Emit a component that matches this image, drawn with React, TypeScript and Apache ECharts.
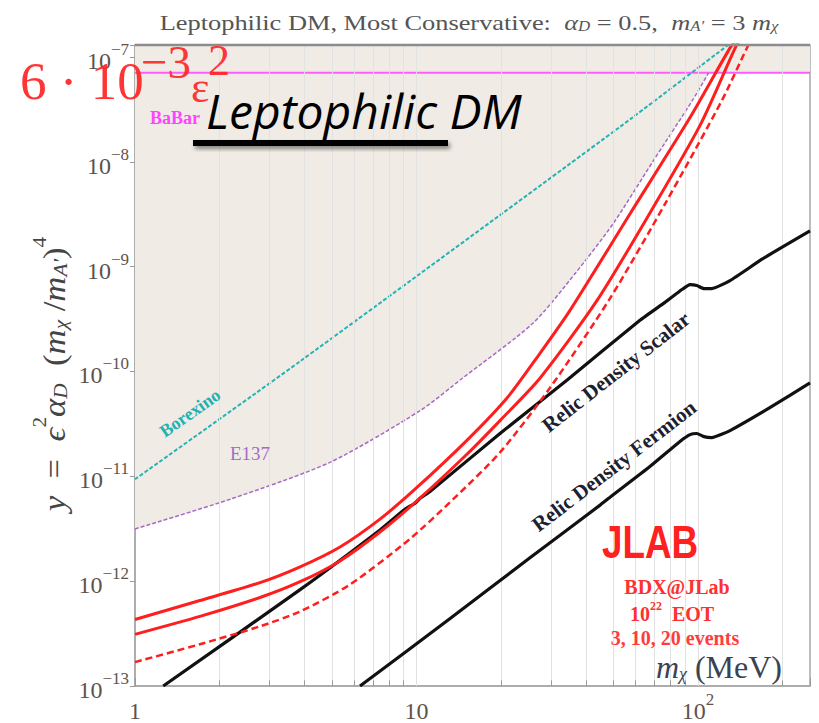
import React, { useEffect, useRef } from 'react';
import * as echarts from 'echarts';

// ---- axis extents & ticks ----
const X_MIN = 1;
const X_MAX = 250;
const Y_MIN = 1e-13;
const Y_MAX = 1.3e-7;
const yTickExponents = [-13, -12, -11, -10, -9, -8, -7];
const xTickExponents = [0, 1, 2];

// ---- BaBar limit (horizontal) ----
const babarY = 7.05e-8;

// ---- Borexino ----
const borexinoX = [1, 3.86, 52.8, 128, 140];
const borexinoY = [9.37e-12, 1.25e-10, 2.15e-8, 1.3e-7, 1.55e-7];

// ---- E137 ----
const e137X = [1, 2.18, 4.93, 10.3, 14.6, 25.9, 36.6, 49.9, 69.2, 95.9, 109];
const e137Y = [3.15e-12, 6.05e-12, 1.36e-11, 4.23e-11, 8.67e-11, 2.88e-10, 8.59e-10, 2.56e-9, 1.01e-8, 3.91e-8, 7.05e-8];

// ---- BDX@JLab: 3 events (solid), 10 events (solid), 20 events (dashed) ----
const bdx3X = [1, 1.7, 2.78, 3.86, 5.35, 7.42, 9.88, 15.2, 21.0, 27.5, 35.1, 57.3, 93.7, 130, 137];
const bdx3Y = [4.31e-13, 6.53e-13, 9.68e-13, 1.37e-12, 2.12e-12, 3.91e-12, 7.53e-12, 2.24e-11, 5.61e-11, 1.5e-10, 3.83e-10, 3.18e-9, 2.64e-8, 1.22e-7, 1.45e-7];
const bdx10X = [1, 1.7, 2.78, 3.86, 5.35, 7.42, 10.1, 15.2, 19.8, 27.5, 43.8, 67.5, 102, 136, 142];
const bdx10Y = [3.11e-13, 4.61e-13, 6.98e-13, 9.88e-13, 1.56e-12, 2.94e-12, 5.92e-12, 1.65e-11, 3.4e-11, 8.67e-11, 4.76e-10, 3.25e-9, 2.26e-8, 1.24e-7, 1.5e-7];
const bdx20X = [1, 1.7, 2.78, 3.86, 5.8, 9.48, 13.5, 19.8, 29.8, 48.7, 76.3, 122, 151, 160];
const bdx20Y = [1.69e-13, 2.5e-13, 3.71e-13, 5.14e-13, 9.27e-13, 2.53e-12, 6.05e-12, 1.69e-11, 6.98e-11, 4.98e-10, 3.95e-9, 3.91e-8, 1.3e-7, 1.7e-7];

// ---- Relic density targets ----
const scalarX = [1.26, 3.86, 7.42, 9.1, 9.88, 10.3, 11.2, 19.8, 34.3, 62.2, 76.3, 87.7, 93.7, 99.1, 105, 112, 130, 170, 250];
const scalarY = [1e-13, 8.3e-13, 3.08e-12, 4.86e-12, 5.54e-12, 6.18e-12, 7.21e-12, 2.56e-11, 8.3e-11, 3.08e-10, 4.56e-10, 6.05e-10, 6.75e-10, 6.6e-10, 6.18e-10, 6.18e-10, 7.36e-10, 1.19e-9, 2.19e-9];
const fermionX = [6.3, 13.2, 25.3, 44.9, 48.7, 67.5, 86.3, 93.7, 99.1, 105, 112, 130, 180, 250];
const fermionY = [1e-13, 4.42e-13, 1.67e-12, 5.31e-12, 6.32e-12, 1.24e-11, 2.15e-11, 2.5e-11, 2.56e-11, 2.39e-11, 2.34e-11, 2.73e-11, 4.51e-11, 7.78e-11];

const SERIF = '"Liberation Serif", "DejaVu Serif", serif';
const SANS = '"Liberation Sans", Arial, sans-serif';
const FILL = '#f1ebe5';

const zip = (xs: number[], ys: number[]) => xs.map((x, i) => [x, ys[i]]);

function rich(size: number, sub: number, lh: number, color: string, weight: string = 'normal') {
  return {
    n: { fontFamily: SERIF, fontSize: size, lineHeight: lh, verticalAlign: 'bottom', fill: color, color, fontWeight: weight },
    i: { fontFamily: SERIF, fontSize: size, fontStyle: 'italic', lineHeight: lh, verticalAlign: 'bottom', fill: color, color, fontWeight: weight },
    sup: { fontFamily: SERIF, fontSize: sub, lineHeight: sub, verticalAlign: 'top', fill: color, color, fontWeight: weight },
    sub: { fontFamily: SERIF, fontSize: sub, fontStyle: 'italic', lineHeight: sub, verticalAlign: 'bottom', fill: color, color, fontWeight: weight },
  };
}

function buildOption() {
  const gridXs: number[] = [];
  for (const d of [1, 10, 100]) for (let k = 1; k <= 9; k++) { const v = k * d; if (v > X_MIN && v < X_MAX) gridXs.push(v); }
  const gridYs: number[] = [];
  for (let e = -13; e <= -7; e++) for (let k = 1; k <= 9; k++) { const v = k * Math.pow(10, e); if (v > Y_MIN * 1.001 && v < Y_MAX) gridYs.push(v); }
  const minorXs = gridXs.filter((v) => ![10, 100].includes(v));

  const tickLabelRich = {
    b: { fontFamily: SERIF, fontSize: 24, lineHeight: 32, verticalAlign: 'bottom', color: '#5e534c' },
    s: { fontFamily: SERIF, fontSize: 17, lineHeight: 17, verticalAlign: 'top', color: '#5e534c' },
  };

  const redSolid = { color: '#ff1e1e', width: 3 };

  const line = (name: string, data: number[][], lineStyle: any, z = 5, smooth: number | boolean = 0.25) => ({
    name, type: 'line', data, symbol: 'none', smooth, lineStyle, z, silent: true,
  });

  return {
    animation: false,
    backgroundColor: '#ffffff',
    grid: { left: 135, top: 45, width: 675, height: 645, show: true, borderColor: '#a8a8a8', borderWidth: 1.5, backgroundColor: 'transparent' },
    xAxis: {
      type: 'log', logBase: 10, min: X_MIN, max: X_MAX,
      axisLine: { show: true, lineStyle: { color: '#a8a8a8', width: 1.5 } },
      axisTick: { show: true, inside: true, length: 8, lineStyle: { color: '#999' } },
      splitLine: { show: false },
      axisLabel: {
        margin: 5,
        rich: tickLabelRich,
        formatter: (v: number) => {
          const e = Math.log10(v); const r = Math.round(e);
          if (Math.abs(e - r) > 1e-6 || !xTickExponents.includes(r)) return '';
          if (r === 0) return '{b|1}';
          if (r === 1) return '{b|10}';
          return `{b|10}{s|${r}}`;
        },
      },
    },
    yAxis: {
      type: 'log', logBase: 10, min: Y_MIN, max: Y_MAX,
      axisLine: { show: true, lineStyle: { color: '#a8a8a8', width: 1.5 } },
      axisTick: { show: true, inside: false, length: 5, lineStyle: { color: '#999' } },
      splitLine: { show: false },
      axisLabel: {
        margin: 6,
        rich: tickLabelRich,
        formatter: (v: number) => {
          const e = Math.log10(v); const r = Math.round(e);
          if (Math.abs(e - r) > 1e-6 || !yTickExponents.includes(r)) return '';
          return `{b|10}{s|−${Math.abs(r)}}`;
        },
      },
    },
    series: [
      {
        name: 'grid', type: 'line', data: [[X_MIN, Y_MIN]], symbol: 'none', lineStyle: { width: 0 }, z: 1, silent: true,
        markLine: {
          silent: true, symbol: ['none', 'none'], label: { show: false },
          lineStyle: { color: '#e2e2e2', width: 1, type: 'solid' },
          data: [...gridXs.map((v) => ({ xAxis: v })), ...gridYs.map((v) => ({ yAxis: v }))],
        },
      },
      {
        name: 'E137 region', type: 'line', data: zip(e137X, e137Y), symbol: 'none', smooth: 0.25,
        lineStyle: { width: 0 }, areaStyle: { color: FILL, opacity: 1, origin: 'end' }, z: 2, silent: true,
      },
      {
        name: 'BaBar region', type: 'line', data: [[X_MIN, babarY], [X_MAX, babarY]], symbol: 'none',
        lineStyle: { width: 0 }, areaStyle: { color: FILL, opacity: 1, origin: 'end' }, z: 2, silent: true,
      },
      {
        name: 'ticks', type: 'line', data: [[X_MIN, Y_MIN]], symbol: 'none', lineStyle: { width: 0 }, z: 3, silent: true,
        markLine: {
          silent: true, symbol: ['none', 'none'], label: { show: false },
          lineStyle: { color: '#999', width: 1, type: 'solid' },
          data: minorXs.map((v) => [{ coord: [v, Y_MIN] }, { coord: [v, Y_MIN * 1.13] }]),
        },
      },
      line('BaBar', [[X_MIN, babarY], [X_MAX, babarY]], { color: '#ff5cff', width: 2 }, 4, false),
      line('Borexino', zip(borexinoX, borexinoY), { color: '#22b4b4', width: 2, type: [4, 2] }, 4, 0.2),
      line('E137', zip(e137X, e137Y), { color: '#a56ac6', width: 1.5, type: [4, 2] }, 4, 0.25),
      line('Relic Density Scalar', zip(scalarX, scalarY), { color: '#111111', width: 3.2, join: 'round' }, 5, 0.15),
      line('Relic Density Fermion', zip(fermionX, fermionY), { color: '#111111', width: 3.2, join: 'round' }, 5, 0.15),
      line('BDX 3 events', zip(bdx3X, bdx3Y), { ...redSolid, join: 'round' }, 6, 0.25),
      line('BDX 10 events', zip(bdx10X, bdx10Y), { ...redSolid, join: 'round' }, 6, 0.25),
      line('BDX 20 events', zip(bdx20X, bdx20Y), { color: '#ff1e1e', width: 2.5, type: [7, 4] }, 6, 0.25),
    ],
    graphic: [
      // top frame emphasis
      { type: 'line', z: 20, shape: { x1: 135, y1: 45, x2: 810, y2: 45 }, style: { stroke: '#8c8c8c', lineWidth: 2.5 } },
      // title
      {
        type: 'text', x: 469, y: 20, z: 20, scaleX: 1.2,
        style: {
          text: '{n|Leptophilic DM, Most Conservative:  }{i|α}{sub|D}{n| = 0.5,  }{i|m}{sub|A′}{n| = 3 }{i|m}{sub|χ}',
          align: 'center', verticalAlign: 'middle', rich: rich(22, 14, 27, '#555555'),
        },
      },
      // y axis title
      {
        type: 'text', x: 50, y: 374, z: 20, rotation: Math.PI / 2, scaleX: 1.12,
        style: {
          text: '{i|y}{n|  =  }{i|ϵ}{sup|2}{i|α}{sub|D}{n|  (}{i|m}{sub|χ}{n| /}{i|m}{sub|A′}{n|)}{sup|4}',
          align: 'center', verticalAlign: 'middle', rich: rich(31, 19, 40, '#454545'),
        },
      },
      // red annotation 6·10^-3 ε^2
      { type: 'text', x: 20, y: 81, z: 60, style: { text: '6 · 10', font: `53px ${SERIF}`, fill: '#ff2424', align: 'left', verticalAlign: 'middle', opacity: 0.92 } },
      { type: 'text', x: 141, y: 62, z: 60, style: { text: '−3', font: `47px ${SERIF}`, fill: '#ff2424', align: 'left', verticalAlign: 'middle', opacity: 0.92 } },
      { type: 'text', x: 191, y: 87, z: 60, style: { text: 'ε', font: `44px ${SERIF}`, fill: '#ff2424', align: 'left', verticalAlign: 'middle', opacity: 0.92 } },
      { type: 'text', x: 208, y: 60, z: 60, style: { text: '2', font: `44px ${SERIF}`, fill: '#ff2424', align: 'left', verticalAlign: 'middle', opacity: 0.92 } },
      // Leptophilic DM overlay + underline
      { type: 'text', x: 206, y: 110, z: 60, style: { text: 'Leptophilic DM', font: `italic 48px "Open Sans", ${SANS}`, fill: '#000', align: 'left', verticalAlign: 'middle' } },
      { type: 'rect', z: 59, shape: { x: 193, y: 140, width: 255, height: 6 }, style: { fill: '#000', shadowBlur: 4, shadowOffsetX: 2, shadowOffsetY: 3, shadowColor: 'rgba(0,0,0,0.45)' } },
      // curve labels
      { type: 'text', x: 150, y: 118, z: 30, style: { text: 'BaBar', font: `bold 18px ${SERIF}`, fill: '#ff44ff', align: 'left', verticalAlign: 'middle' } },
      { type: 'text', x: 190, y: 413, z: 30, rotation: (35 * Math.PI) / 180, style: { text: 'Borexino', font: `bold 18px ${SERIF}`, fill: '#22b2b2', align: 'center', verticalAlign: 'middle' } },
      { type: 'text', x: 250, y: 453, z: 30, style: { text: 'E137', font: `19px ${SERIF}`, fill: '#a36cc4', align: 'center', verticalAlign: 'middle' } },
      { type: 'text', x: 616, y: 372, z: 30, rotation: (38 * Math.PI) / 180, style: { text: 'Relic Density Scalar', font: `bold 21px ${SERIF}`, fill: '#1c2030', align: 'center', verticalAlign: 'middle' } },
      { type: 'text', x: 614, y: 466, z: 30, rotation: (37.5 * Math.PI) / 180, style: { text: 'Relic Density Fermion', font: `bold 21px ${SERIF}`, fill: '#1c2030', align: 'center', verticalAlign: 'middle' } },
      // JLAB block
      { type: 'text', x: 602, y: 542, z: 30, scaleX: 0.8, style: { text: 'JLAB', font: `bold 46px ${SANS}`, fill: '#ff2020', align: 'left', verticalAlign: 'middle' } },
      { type: 'text', x: 677, y: 587, z: 30, style: { text: 'BDX@JLab', font: `bold 20px ${SERIF}`, fill: '#ff3030', align: 'center', verticalAlign: 'middle' } },
      {
        type: 'text', x: 672, y: 612, z: 30,
        style: { text: '{n|10}{sup|22}{n|  EOT}', align: 'center', verticalAlign: 'middle', rich: rich(20, 12, 24, '#ff3030', 'bold') },
      },
      { type: 'text', x: 675, y: 638, z: 30, style: { text: '3, 10, 20 events', font: `bold 20px ${SERIF}`, fill: '#ff3c3c', align: 'center', verticalAlign: 'middle' } },
      {
        type: 'text', x: 782, y: 664, z: 30,
        style: { text: '{i|m}{sub|χ}{n| (MeV)}', align: 'right', verticalAlign: 'middle', rich: rich(32, 18, 38, '#3b4252') },
      },
    ],
  };
}

export default function App() {
  const ref = useRef<HTMLDivElement>(null);
  useEffect(() => {
    if (!ref.current) return;
    const chart = echarts.init(ref.current, undefined, { renderer: 'svg' });
    chart.setOption(buildOption() as any);
    return () => chart.dispose();
  }, []);
  return (
    <div
      ref={ref}
      style={{ position: 'fixed', left: 0, top: 0, width: 819, height: 723, background: '#fff' }}
    />
  );
}
